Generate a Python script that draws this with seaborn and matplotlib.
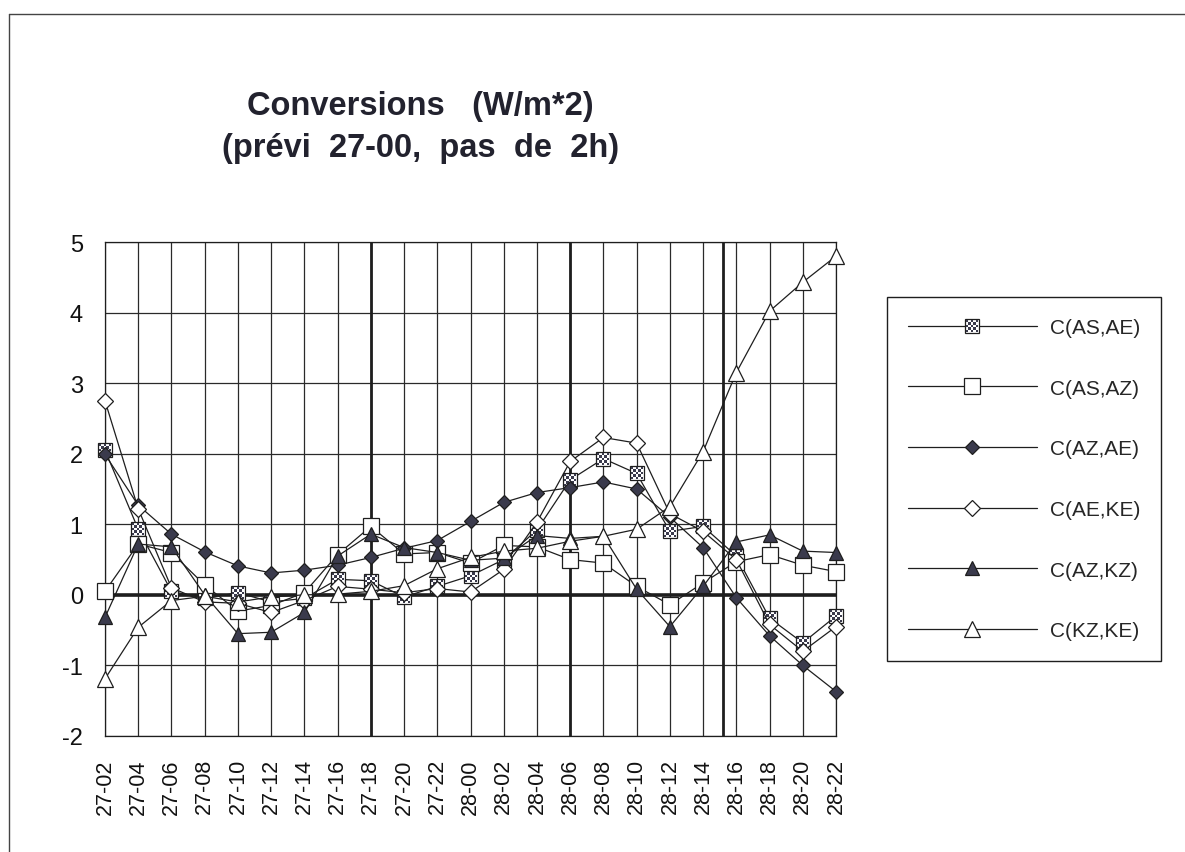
import matplotlib.pyplot as plt
import pandas as pd
import seaborn as sb
from matplotlib.path import Path
from matplotlib.markers import MarkerStyle
from matplotlib.lines import Line2D

times = ['27-02', '27-04', '27-06', '27-08', '27-10', '27-12', '27-14', '27-16',
         '27-18', '27-20', '27-22', '28-00', '28-02', '28-04', '28-06', '28-08',
         '28-10', '28-12', '28-14', '28-16', '28-18', '28-20', '28-22']

as_ae = [2.05, 0.93, 0.05, -0.05, 0.03, -0.10, -0.05, 0.22, 0.20, -0.03, 0.12, 0.27,
         0.50, 0.92, 1.63, 1.93, 1.72, 0.90, 0.97, 0.55, -0.33, -0.68, -0.30]
as_az = [0.05, 0.72, 0.60, 0.14, -0.23, -0.15, 0.03, 0.57, 0.97, 0.58, 0.60, 0.45,
         0.70, 0.68, 0.50, 0.45, 0.12, -0.14, 0.17, 0.47, 0.57, 0.42, 0.33]
az_ae = [1.99, 1.27, 0.86, 0.61, 0.41, 0.31, 0.35, 0.42, 0.53, 0.66, 0.77, 1.04,
         1.31, 1.45, 1.52, 1.60, 1.50, 1.10, 0.67, -0.04, -0.58, -1.00, -1.37]
ae_ke = [2.75, 1.22, 0.10, -0.10, -0.12, -0.25, -0.08, 0.12, 0.08, 0.03, 0.09, 0.04,
         0.36, 1.03, 1.89, 2.23, 2.15, 1.15, 0.90, 0.50, -0.42, -0.80, -0.45]
az_kz = [-0.32, 0.72, 0.68, 0.00, -0.55, -0.53, -0.25, 0.55, 0.86, 0.67, 0.60, 0.49,
         0.52, 0.84, 0.80, 0.83, 0.08, -0.45, 0.12, 0.75, 0.85, 0.62, 0.60]
kz_ke = [-1.19, -0.46, -0.08, -0.02, -0.10, -0.03, 0.00, 0.01, 0.05, 0.13, 0.37, 0.53,
         0.62, 0.66, 0.76, 0.83, 0.93, 1.25, 2.03, 3.15, 4.02, 4.43, 4.80]

labels = ['C(AS,AE)', 'C(AS,AZ)', 'C(AZ,AE)', 'C(AE,KE)', 'C(AZ,KZ)', 'C(KZ,KE)']

sb.set_style('white')
plt.rcParams['font.family'] = ['Liberation Sans', 'DejaVu Sans']
plt.rcParams['axes.unicode_minus'] = False

df = pd.DataFrame({'Time': times, labels[0]: as_ae, labels[1]: as_az, labels[2]: az_ae,
                   labels[3]: ae_ke, labels[4]: az_kz, labels[5]: kz_ke})
long = df.melt(id_vars='Time', var_name='Conversion', value_name='Value')

# checkerboard marker for C(AS,AE)
n = 5
verts, codes = [], []
for i in range(n):
    for j in range(n):
        if (i + j) % 2 == 0:
            x0, y0 = -0.5 + i / n, -0.5 + j / n
            verts += [(x0, y0), (x0 + 1 / n, y0), (x0 + 1 / n, y0 + 1 / n), (x0, y0 + 1 / n), (x0, y0)]
            codes += [Path.MOVETO, Path.LINETO, Path.LINETO, Path.LINETO, Path.CLOSEPOLY]
checker = MarkerStyle(Path(verts, codes))

dark = '#3a3a4c'
ink = '#1e1e1e'
styles = {
    'C(AS,AE)': dict(marker='s', markersize=9.5, markerfacecolor='white'),
    'C(AS,AZ)': dict(marker='s', markersize=11, markerfacecolor='white'),
    'C(AZ,AE)': dict(marker='D', markersize=6.8, markerfacecolor=dark),
    'C(AE,KE)': dict(marker='D', markersize=8, markerfacecolor='white'),
    'C(AZ,KZ)': dict(marker='^', markersize=10, markerfacecolor=dark),
    'C(KZ,KE)': dict(marker='^', markersize=12, markerfacecolor='white'),
}

fig = plt.figure(figsize=(11.85, 8.53), dpi=100)
ax = fig.add_axes([0.0886, 0.136, 0.6169, 0.5791])

handles = []
for lab in labels:
    sub = long[long['Conversion'] == lab]
    sb.lineplot(data=sub, x='Time', y='Value', ax=ax, color=ink, linewidth=0.9,
                markeredgecolor=ink, markeredgewidth=0.9, errorbar=None,
                legend=False, zorder=3, clip_on=False, **styles[lab])
    line = ax.lines[-1]
    if lab == 'C(AS,AE)':
        sb.lineplot(data=sub, x='Time', y='Value', ax=ax, color=ink, linewidth=0,
                    marker=checker, markersize=8.5, markerfacecolor=dark,
                    markeredgewidth=0, errorbar=None, legend=False, zorder=3, clip_on=False)
        handles.append((line, ax.lines[-1]))
    else:
        handles.append(line)

ax.set_xlim(0, 22)
ax.set_ylim(-2, 5)
ax.set_yticks(range(-2, 6))
ax.set_yticklabels([str(v) for v in range(-2, 6)])
ax.grid(True, color='#2a2a2a', linewidth=0.9)
ax.set_axisbelow(True)
ax.axhline(0, color=ink, linewidth=2.6, zorder=2)
for xv in [8, 14, 18.6]:
    ax.axvline(xv, color=ink, linewidth=2.0, zorder=2)

for s in ax.spines.values():
    s.set_color(ink)
    s.set_linewidth(0.9)
ax.tick_params(axis='both', direction='out', length=6, width=0.9, color=ink, labelcolor='#111')
ax.tick_params(axis='y', labelsize=17, pad=10)
ax.tick_params(axis='x', labelsize=15.5, pad=10, labelrotation=90)
ax.set_xlabel('')
ax.set_ylabel('')

leg = ax.legend(handles, labels, loc='upper left', bbox_to_anchor=(0.7485, 0.6506),
                bbox_transform=fig.transFigure, borderaxespad=0, fontsize=15,
                handlelength=6.2, handletextpad=0.62, labelspacing=2.0, borderpad=1.0,
                numpoints=1, frameon=True, fancybox=False, framealpha=1)
leg.get_frame().set_edgecolor(ink)
leg.get_frame().set_linewidth(1.0)

fig.text(420 / 1185, 1 - 106 / 853, 'Conversions   (W/m*2)', ha='center', va='center',
         fontsize=23.5, fontweight='bold', color='#22222e')
fig.text(421 / 1185, 1 - 148 / 853, '(prévi  27-00,  pas  de  2h)', ha='center', va='center',
         fontsize=23.5, fontweight='bold', color='#22222e')

# page frame
fig.add_artist(Line2D([9 / 1185, 1], [1 - 15 / 853] * 2, transform=fig.transFigure, color='#444', lw=1))
fig.add_artist(Line2D([9 / 1185] * 2, [0, 1 - 15 / 853], transform=fig.transFigure, color='#444', lw=1))

fig.savefig('out.png', dpi=100)
